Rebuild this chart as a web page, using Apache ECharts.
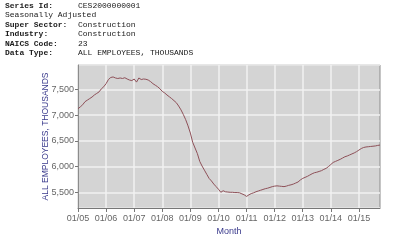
<!DOCTYPE html>
<html><head><meta charset="utf-8">
<script src="https://cdn.jsdelivr.net/npm/echarts@6/dist/echarts.min.js"></script>
<style>html,body{margin:0;padding:0;background:#fff}#c{width:400px;height:250px}</style>
</head><body><div id="c"></div>
<script>
// Header metadata
var headerLabels = ["Series Id:", "Seasonally Adjusted", "Super Sector:", "Industry:", "NAICS Code:", "Data Type:"];
var headerValues = ["CES2000000001", "", "Construction", "Construction", "23", "ALL EMPLOYEES, THOUSANDS"];
var headerBold = [true, false, true, true, true, true];

// Monthly values (thousands), Jan 2005 .. Oct 2015
var v2005 = [7122, 7160, 7200, 7260, 7290, 7320, 7350, 7390, 7420, 7450, 7510, 7550];
var v2006 = [7610, 7690, 7730, 7740, 7720, 7710, 7720, 7710, 7725, 7700, 7680, 7670];
var v2007 = [7700, 7640, 7720, 7690, 7700, 7695, 7680, 7650, 7610, 7580, 7550, 7510];
var v2008 = [7460, 7430, 7390, 7355, 7320, 7280, 7240, 7175, 7100, 7010, 6910, 6790];
var v2009 = [6650, 6470, 6360, 6250, 6100, 6010, 5930, 5850, 5770, 5720, 5660, 5610];
var v2010 = [5560, 5500, 5530, 5510, 5505, 5500, 5500, 5495, 5495, 5490, 5470, 5450];
var v2011 = [5420, 5450, 5475, 5490, 5510, 5525, 5540, 5555, 5570, 5580, 5595, 5610];
var v2012 = [5620, 5625, 5620, 5615, 5610, 5620, 5635, 5645, 5660, 5680, 5700, 5740];
var v2013 = [5770, 5790, 5810, 5835, 5860, 5880, 5890, 5905, 5920, 5945, 5965, 6000];
var v2014 = [6040, 6080, 6100, 6120, 6140, 6165, 6190, 6205, 6225, 6245, 6265, 6290];
var v2015 = [6320, 6350, 6370, 6380, 6385, 6390, 6395, 6400, 6410, 6417];
var years = ["05","06","07","08","09","10","11","12","13","14","15"];
var yearValues = [v2005, v2006, v2007, v2008, v2009, v2010, v2011, v2012, v2013, v2014, v2015];

var categories = [], values = [];
for (var i = 0; i < years.length; i++) {
  for (var j = 0; j < yearValues[i].length; j++) {
    categories.push((j < 9 ? "0" : "") + (j + 1) + "/" + years[i]);
    values.push(yearValues[i][j]);
  }
}
var yMin = 5195, yMax = 7972;

var graphics = [];
for (var k = 0; k < headerLabels.length; k++) {
  var yy = 5.5 + 9.55 * k;
  graphics.push({type: 'text', x: 5, y: yy, style: {text: headerLabels[k], font: (headerBold[k] ? 'bold ' : '') + '8px "Liberation Mono", monospace', fill: '#1a1a1a', textVerticalAlign: 'middle'}});
  if (headerValues[k]) graphics.push({type: 'text', x: 78, y: yy, style: {text: headerValues[k], font: '8px "Liberation Mono", monospace', fill: '#1a1a1a', textVerticalAlign: 'middle'}});
}

var chart = echarts.init(document.getElementById('c'), null, {renderer: 'canvas'});
chart.setOption({
  animation: false,
  backgroundColor: '#ffffff',
  graphic: graphics,
  grid: {left: 78, right: 20, top: 65, bottom: 42, show: true, backgroundColor: '#d4d4d4', borderColor: '#8c8c8c', borderWidth: 1},
  xAxis: {
    type: 'category', data: categories, boundaryGap: false,
    name: 'Month', nameLocation: 'middle', nameGap: 19, nameMoveOverlap: false,
    nameTextStyle: {color: '#3a3a8c', fontSize: 9, fontFamily: 'Liberation Sans'},
    axisLine: {lineStyle: {color: '#777', width: 1}},
    axisTick: {interval: 11, length: 4, lineStyle: {color: '#777'}},
    axisLabel: {interval: 11, color: '#666', fontSize: 9, fontFamily: 'Liberation Sans', margin: 6},
    splitLine: {show: true, interval: 11, lineStyle: {color: '#f2f2f2', width: 1.5}}
  },
  yAxis: {
    type: 'value', min: yMin, max: yMax, splitNumber: 5,
    name: 'ALL EMPLOYEES, THOUSANDS', nameLocation: 'middle', nameGap: 28, nameMoveOverlap: false,
    nameTextStyle: {color: '#3a3a8c', fontSize: 8.5, fontFamily: 'Liberation Sans'},
    axisLine: {show: true, lineStyle: {color: '#8c8c8c'}},
    axisTick: {show: true, length: 3, lineStyle: {color: '#777'}},
    axisLabel: {color: '#666', fontSize: 9, fontFamily: 'Liberation Sans', margin: 4, showMinLabel: false, showMaxLabel: false,
      formatter: function (v) { return (v % 500 === 0) ? echarts.format.addCommas(v) : ''; }},
    splitLine: {show: true, lineStyle: {color: '#f2f2f2', width: 1.5}}
  },
  series: [{type: 'line', data: values, showSymbol: false, lineStyle: {color: '#8e5058', width: 1}}]
});
</script></body></html>
